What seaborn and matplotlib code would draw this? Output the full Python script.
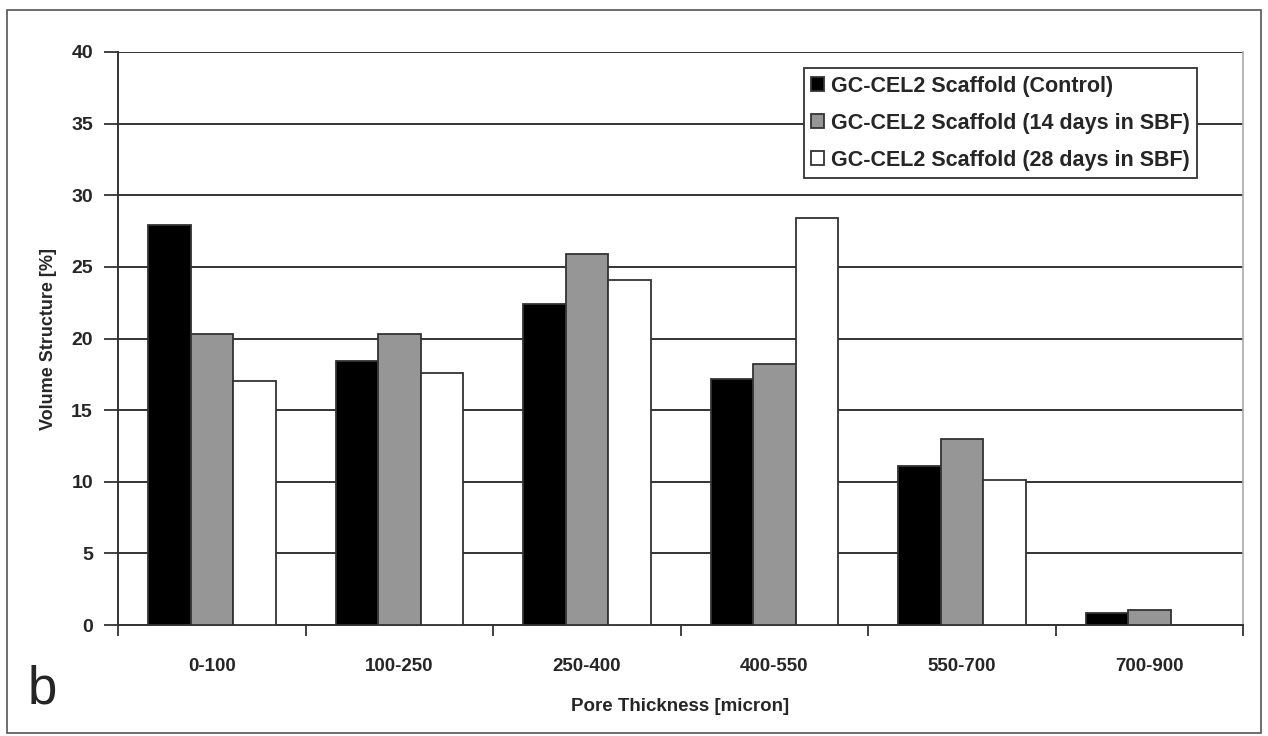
import matplotlib
matplotlib.use("Agg")
import matplotlib.pyplot as plt
import seaborn as sns
import pandas as pd
import numpy as np
from matplotlib.patches import Rectangle

categories = ["0-100", "100-250", "250-400", "400-550", "550-700", "700-900"]
series_names = ["GC-CEL2 Scaffold (Control)",
                "GC-CEL2 Scaffold (14 days in SBF)",
                "GC-CEL2 Scaffold (28 days in SBF)"]
control = [27.9, 18.4, 22.4, 17.2, 11.1, 0.85]
days14 = [20.3, 20.3, 25.9, 18.2, 13.0, 1.05]
days28 = [17.0, 17.6, 24.1, 28.4, 10.1, 0.0]
yticks = [0, 5, 10, 15, 20, 25, 30, 35, 40]

rows = []
for name, vals in zip(series_names, [control, days14, days28]):
    for c, v in zip(categories, vals):
        rows.append({"cat": c, "series": name, "value": v})
df = pd.DataFrame(rows)

sns.set_theme(style="white")
plt.rcParams['font.family'] = ['Liberation Sans', 'DejaVu Sans']

fig = plt.figure(figsize=(12.68, 7.36), dpi=100)
ax = fig.add_axes([118/1268, 1-625/736, (1243-118)/1268, (625-52)/736])

palette = {series_names[0]: "#000000", series_names[1]: "#969696", series_names[2]: "#ffffff"}
sns.barplot(data=df, x="cat", y="value", hue="series", palette=palette,
            order=categories, hue_order=series_names, width=0.68,
            edgecolor="#333333", linewidth=1.3, saturation=1, ax=ax, zorder=3)

ax.set_ylim(0, 40)
ax.set_xlim(-0.5, len(categories)-0.5)
ax.set_yticks(yticks)
ax.set_yticklabels([str(t) for t in yticks], fontsize=14, fontweight="bold")
ax.yaxis.grid(True, color="#333333", linewidth=1.4, zorder=0)
ax.set_axisbelow(True)

ax.set_xticks(range(len(categories)))
ax.set_xticklabels(categories, fontsize=13.5, fontweight="bold")
ax.set_xticks(np.arange(-0.5, len(categories), 1.0), minor=True)
ax.tick_params(axis="x", which="major", length=0, pad=24, bottom=True)
ax.tick_params(axis="x", which="minor", length=8, width=1.3, color="#333333",
               direction="out", bottom=True)
ax.tick_params(axis="y", length=10, width=1.3, color="#333333", direction="out", pad=8, left=True)

ax.set_xlabel("Pore Thickness [micron]", fontsize=13.5, fontweight="bold", labelpad=16)
ax.set_ylabel("Volume Structure [%]", fontsize=13, fontweight="bold", labelpad=10)

ax.spines["top"].set_visible(False)
ax.spines["left"].set_color("#333333")
ax.spines["left"].set_linewidth(1.4)
ax.spines["bottom"].set_color("#333333")
ax.spines["bottom"].set_linewidth(1.4)
ax.spines["right"].set_color("#aaaaaa")
ax.spines["right"].set_linewidth(1.2)

leg = ax.legend(loc="upper right", bbox_to_anchor=((1197-118)/(1243-118), (625-68)/(625-52)),
                frameon=True, fancybox=False, fontsize=15.5, handlelength=0.6, handleheight=0.6,
                handletextpad=0.3, borderpad=0.35, labelspacing=0.75, borderaxespad=0)
leg.get_frame().set_edgecolor("#333333")
leg.get_frame().set_linewidth(1.3)
leg.get_frame().set_facecolor("white")
leg.get_frame().set_alpha(1)
for t in leg.get_texts():
    t.set_fontweight("bold")

fig.text(28/1268, 1-690/736, "b", fontsize=38, va="center", ha="left")
fig.patches.append(Rectangle((7/1268, 3/736), 1254/1268, 723/736, transform=fig.transFigure,
                             fill=False, edgecolor="#555555", linewidth=1.2))

fig.savefig("out.png", dpi=100)
